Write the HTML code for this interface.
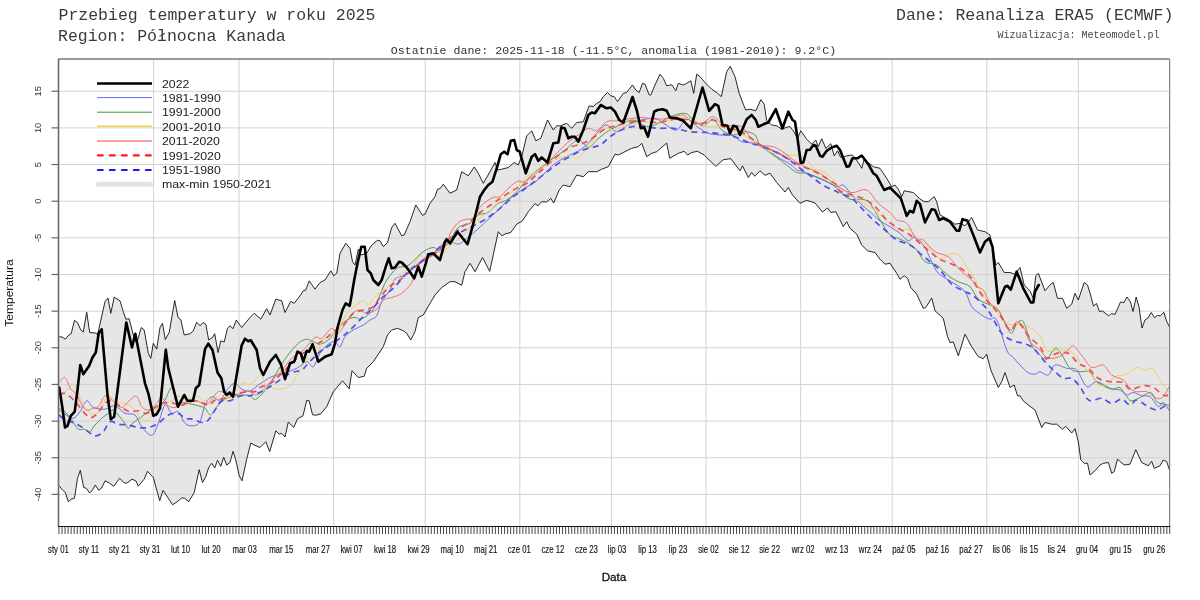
<!DOCTYPE html><html><head><meta charset="utf-8"><style>html,body{margin:0;padding:0;background:#fff;width:1200px;height:600px;overflow:hidden}svg{position:absolute;left:0;top:0;will-change:transform}.m{font-family:"Liberation Mono",monospace}.s{font-family:"Liberation Sans",sans-serif}</style></head><body><svg width="1200" height="600" viewBox="0 0 1200 600"><text class="m" x="58.5" y="19.5" font-size="16.5" fill="#3a3a3a">Przebieg temperatury w roku 2025</text><text class="m" x="58" y="40.5" font-size="16.5" fill="#3a3a3a">Region: Północna Kanada</text><text class="m" x="1173.3" y="19.5" font-size="16.5" fill="#3a3a3a" text-anchor="end">Dane: Reanaliza ERA5 (ECMWF)</text><text class="m" x="1159.5" y="37.5" font-size="10" fill="#444" text-anchor="end">Wizualizacja: Meteomodel.pl</text><text class="m" x="613.5" y="53.5" font-size="11.6" fill="#333" text-anchor="middle">Ostatnie dane: 2025-11-18 (-11.5°C, anomalia (1981-2010): 9.2°C)</text><path d="M59.2 336.7 L62.0 337.0 L65.3 339.2 L68.3 335.5 L71.2 333.7 L74.5 320.3 L77.5 322.5 L80.8 330.0 L83.3 332.0 L86.7 312.2 L89.7 332.5 L95.8 333.0 L97.5 335.0 L105.0 301.7 L108.0 298.0 L110.8 313.3 L114.2 297.2 L120.0 300.8 L123.3 311.7 L125.8 319.2 L129.2 318.8 L133.3 335.0 L136.7 343.3 L141.3 327.5 L144.2 330.0 L148.3 353.3 L150.8 358.3 L153.3 343.3 L156.7 349.2 L160.0 327.5 L162.5 323.3 L165.3 339.7 L169.2 332.5 L174.7 300.5 L178.0 317.5 L180.8 319.7 L184.2 335.0 L190.0 333.7 L193.3 330.8 L196.7 322.2 L200.0 325.8 L203.0 322.5 L205.8 324.2 L208.7 340.0 L212.5 337.5 L214.7 333.7 L218.0 352.5 L220.8 340.8 L224.2 342.0 L227.5 328.3 L230.0 325.8 L233.0 328.7 L236.3 320.0 L241.7 327.5 L250.0 317.5 L254.2 313.3 L260.8 319.2 L266.7 308.7 L270.0 315.0 L275.8 299.2 L281.7 300.8 L285.0 312.5 L290.8 301.3 L294.2 303.3 L300.0 295.8 L303.3 290.8 L305.8 290.0 L309.2 280.8 L315.0 289.2 L320.0 282.5 L325.0 280.0 L330.8 270.8 L333.7 275.8 L336.7 273.3 L340.0 253.3 L345.8 243.3 L350.0 248.3 L352.5 261.7 L355.0 265.0 L358.3 249.2 L360.8 255.0 L366.7 253.3 L371.7 245.0 L377.5 240.3 L380.0 240.8 L383.3 246.7 L387.5 242.5 L391.7 227.5 L395.0 223.3 L401.7 235.8 L404.2 235.0 L410.0 221.7 L415.8 205.0 L422.5 215.3 L425.0 214.2 L430.0 203.3 L435.0 196.7 L437.5 189.2 L440.0 188.7 L443.3 184.2 L450.0 193.3 L456.7 190.0 L461.7 171.7 L468.3 175.8 L474.2 167.0 L478.3 173.3 L483.3 183.3 L490.0 171.7 L495.0 162.5 L497.5 170.0 L501.7 169.2 L508.3 167.5 L514.2 162.5 L518.3 165.0 L521.7 156.7 L526.7 135.8 L531.7 130.8 L535.8 140.8 L540.8 138.3 L547.5 120.0 L553.3 130.0 L556.7 125.8 L560.8 125.8 L566.7 123.3 L571.7 128.3 L576.7 122.5 L583.3 121.7 L589.2 105.8 L593.3 106.7 L596.7 103.3 L600.0 101.7 L603.3 96.7 L607.5 92.5 L610.8 95.8 L614.2 96.7 L617.5 101.7 L623.3 93.3 L626.7 92.5 L632.5 85.0 L635.8 90.0 L639.2 92.5 L642.5 83.3 L645.0 84.2 L649.2 95.0 L650.8 95.0 L655.0 85.0 L660.0 74.2 L663.3 78.3 L666.7 85.8 L671.7 84.7 L675.8 90.8 L678.3 83.3 L683.3 85.0 L686.7 83.3 L690.8 80.8 L693.7 93.3 L696.7 74.2 L700.0 76.7 L705.0 82.5 L711.7 89.2 L716.7 92.5 L721.3 96.7 L726.7 71.7 L730.3 66.3 L735.0 76.7 L739.2 93.3 L743.3 104.2 L745.8 110.0 L750.0 109.2 L755.8 110.8 L760.8 99.7 L764.2 104.2 L766.7 120.8 L771.7 125.0 L776.7 125.8 L781.7 129.2 L788.3 126.7 L790.0 126.7 L793.3 130.8 L797.5 138.3 L800.8 130.8 L806.7 139.2 L811.7 144.2 L815.8 140.0 L818.3 146.7 L821.7 138.7 L825.8 148.3 L830.8 143.7 L834.2 155.8 L837.5 150.8 L840.8 157.5 L846.7 155.8 L852.5 155.0 L858.3 162.5 L861.7 168.3 L864.2 159.2 L868.3 162.5 L873.3 166.7 L880.0 168.3 L886.7 178.3 L891.7 186.7 L895.0 185.0 L898.3 189.2 L901.7 196.7 L904.2 190.8 L913.3 192.5 L919.2 198.3 L924.2 201.7 L928.3 201.7 L934.2 196.7 L936.7 201.7 L940.0 215.0 L943.3 216.7 L948.3 219.2 L955.0 224.2 L960.0 223.3 L965.0 225.8 L971.7 217.5 L977.5 230.0 L985.0 231.7 L990.0 235.0 L993.3 250.0 L995.8 265.0 L998.3 262.5 L1004.2 272.5 L1010.0 272.5 L1015.0 274.2 L1020.0 267.5 L1024.2 285.0 L1030.0 290.8 L1033.3 298.3 L1035.8 275.8 L1038.3 273.3 L1045.0 290.8 L1050.8 284.2 L1053.3 282.5 L1057.5 298.3 L1062.5 298.3 L1066.7 308.3 L1071.7 304.2 L1075.0 293.3 L1078.3 300.0 L1084.2 282.5 L1087.5 285.0 L1090.0 293.0 L1093.5 306.0 L1096.5 303.5 L1099.5 311.5 L1102.5 311.0 L1108.5 315.8 L1111.5 313.5 L1115.0 314.5 L1120.5 302.0 L1124.0 302.5 L1127.0 297.0 L1130.5 302.0 L1133.0 311.5 L1136.2 297.0 L1139.0 307.0 L1142.0 328.0 L1145.0 320.0 L1148.0 318.0 L1151.2 312.5 L1154.5 317.5 L1157.5 315.5 L1160.5 315.8 L1163.8 312.2 L1166.5 321.0 L1169.5 327.0 L1169.5 470.0 L1166.7 461.7 L1163.3 460.0 L1160.0 465.8 L1154.2 468.3 L1151.7 461.3 L1148.3 465.8 L1141.7 462.5 L1135.8 449.7 L1130.0 464.2 L1124.2 465.0 L1117.5 459.2 L1114.2 471.7 L1111.7 473.3 L1108.3 462.5 L1103.3 463.3 L1100.0 465.0 L1095.0 470.8 L1090.0 475.0 L1087.5 463.3 L1084.2 463.3 L1080.8 460.0 L1078.3 441.7 L1075.0 428.7 L1071.7 433.0 L1065.8 426.3 L1062.5 429.2 L1056.7 424.2 L1051.7 424.2 L1045.0 422.5 L1041.7 427.5 L1035.0 410.0 L1028.3 405.0 L1023.3 400.8 L1020.0 395.8 L1017.5 395.8 L1014.2 385.0 L1010.0 387.5 L1005.0 372.5 L1001.7 381.7 L998.3 387.5 L990.8 370.0 L986.7 354.2 L983.3 358.7 L978.3 356.7 L971.7 346.7 L965.0 334.2 L958.3 355.8 L953.3 342.0 L950.0 342.5 L947.5 336.7 L943.3 318.3 L935.0 310.8 L931.7 298.0 L925.8 307.5 L923.3 308.3 L916.7 294.2 L910.8 287.5 L907.5 278.3 L904.2 275.8 L900.0 279.2 L896.7 273.3 L890.0 263.3 L885.0 264.2 L880.0 259.2 L875.0 252.5 L867.5 250.8 L861.7 245.0 L856.7 234.2 L850.0 228.3 L846.7 221.7 L843.3 226.7 L840.0 220.0 L835.8 211.7 L830.8 212.5 L827.5 208.0 L822.5 212.0 L815.0 203.0 L806.7 200.3 L800.0 203.3 L792.5 195.0 L788.3 187.5 L785.0 192.0 L776.7 182.5 L770.0 173.3 L765.0 175.3 L760.0 170.8 L754.7 176.3 L751.7 172.5 L748.3 177.5 L742.5 165.8 L740.0 170.8 L730.8 158.7 L723.3 159.7 L715.8 166.3 L710.0 160.8 L704.2 155.0 L697.5 151.3 L691.7 152.5 L687.5 155.0 L684.2 151.3 L678.3 153.3 L669.7 158.3 L666.7 143.0 L656.7 151.7 L651.7 153.3 L646.7 156.7 L641.7 143.3 L638.3 146.7 L631.7 148.3 L623.3 152.5 L618.3 155.0 L615.0 154.2 L608.3 166.7 L601.7 169.2 L596.7 171.7 L588.3 171.7 L583.3 176.7 L576.7 175.0 L570.0 186.7 L563.3 185.0 L559.2 190.0 L553.7 203.0 L550.8 198.3 L546.7 202.0 L541.7 201.7 L538.0 205.8 L535.0 203.7 L528.3 211.7 L522.5 220.8 L516.7 224.2 L510.8 232.5 L505.8 233.7 L501.7 235.8 L498.3 231.7 L489.7 271.3 L482.5 257.5 L475.0 271.7 L470.0 263.3 L465.0 271.7 L461.7 285.3 L455.0 281.7 L450.0 281.7 L441.7 287.5 L435.0 295.0 L430.0 303.3 L423.3 315.0 L418.3 317.5 L415.0 331.7 L410.8 340.0 L406.7 333.3 L403.3 330.8 L397.5 328.3 L391.7 330.0 L387.5 335.0 L383.3 346.7 L373.3 361.7 L366.7 368.3 L364.2 376.3 L358.3 377.5 L352.0 370.8 L349.2 388.7 L342.5 380.8 L333.3 391.7 L326.7 406.7 L320.8 413.7 L315.8 415.3 L312.5 414.7 L309.2 400.8 L306.7 400.3 L303.0 415.8 L297.5 418.8 L293.7 427.5 L288.3 422.0 L285.0 437.0 L281.7 433.3 L279.2 434.2 L275.8 430.8 L269.7 451.7 L265.8 441.7 L260.0 447.5 L254.2 445.0 L250.8 443.0 L246.7 459.2 L242.0 480.8 L239.2 475.8 L235.8 460.0 L233.0 451.3 L230.0 462.5 L226.7 465.0 L223.7 457.2 L220.8 466.3 L217.5 460.3 L214.7 468.0 L211.7 463.3 L208.7 467.5 L205.8 476.7 L202.5 482.5 L199.2 469.7 L194.2 492.5 L188.7 501.7 L184.7 498.3 L181.7 498.0 L175.0 503.3 L172.5 504.7 L163.0 490.3 L159.7 500.8 L153.3 477.5 L147.5 471.3 L144.2 479.2 L138.3 486.2 L135.8 480.8 L132.0 479.2 L126.7 483.3 L123.7 482.5 L119.7 478.3 L113.7 486.3 L109.2 483.0 L105.0 480.8 L101.7 488.0 L98.7 490.3 L95.3 485.0 L92.5 490.0 L89.7 493.0 L86.3 488.3 L83.7 487.5 L80.3 470.3 L77.5 478.3 L74.5 498.3 L71.2 499.2 L68.3 501.7 L65.3 492.5 L62.5 490.0 L59.2 485.8Z" fill="#e6e6e6" stroke="none"/><line x1="153.56" y1="59" x2="153.56" y2="526" stroke="#d2d2d2" stroke-width="1"/><line x1="239.02" y1="59" x2="239.02" y2="526" stroke="#d2d2d2" stroke-width="1"/><line x1="333.64" y1="59" x2="333.64" y2="526" stroke="#d2d2d2" stroke-width="1"/><line x1="425.20" y1="59" x2="425.20" y2="526" stroke="#d2d2d2" stroke-width="1"/><line x1="519.82" y1="59" x2="519.82" y2="526" stroke="#d2d2d2" stroke-width="1"/><line x1="611.39" y1="59" x2="611.39" y2="526" stroke="#d2d2d2" stroke-width="1"/><line x1="706.01" y1="59" x2="706.01" y2="526" stroke="#d2d2d2" stroke-width="1"/><line x1="800.62" y1="59" x2="800.62" y2="526" stroke="#d2d2d2" stroke-width="1"/><line x1="892.19" y1="59" x2="892.19" y2="526" stroke="#d2d2d2" stroke-width="1"/><line x1="986.81" y1="59" x2="986.81" y2="526" stroke="#d2d2d2" stroke-width="1"/><line x1="1078.37" y1="59" x2="1078.37" y2="526" stroke="#d2d2d2" stroke-width="1"/><line x1="59" y1="91.25" x2="1169.7" y2="91.25" stroke="#d2d2d2" stroke-width="1"/><line x1="59" y1="127.90" x2="1169.7" y2="127.90" stroke="#d2d2d2" stroke-width="1"/><line x1="59" y1="164.55" x2="1169.7" y2="164.55" stroke="#d2d2d2" stroke-width="1"/><line x1="59" y1="201.20" x2="1169.7" y2="201.20" stroke="#d2d2d2" stroke-width="1"/><line x1="59" y1="237.85" x2="1169.7" y2="237.85" stroke="#d2d2d2" stroke-width="1"/><line x1="59" y1="274.50" x2="1169.7" y2="274.50" stroke="#d2d2d2" stroke-width="1"/><line x1="59" y1="311.15" x2="1169.7" y2="311.15" stroke="#d2d2d2" stroke-width="1"/><line x1="59" y1="347.80" x2="1169.7" y2="347.80" stroke="#d2d2d2" stroke-width="1"/><line x1="59" y1="384.45" x2="1169.7" y2="384.45" stroke="#d2d2d2" stroke-width="1"/><line x1="59" y1="421.10" x2="1169.7" y2="421.10" stroke="#d2d2d2" stroke-width="1"/><line x1="59" y1="457.75" x2="1169.7" y2="457.75" stroke="#d2d2d2" stroke-width="1"/><line x1="59" y1="494.40" x2="1169.7" y2="494.40" stroke="#d2d2d2" stroke-width="1"/><path d="M59.2 336.7 L62.0 337.0 L65.3 339.2 L68.3 335.5 L71.2 333.7 L74.5 320.3 L77.5 322.5 L80.8 330.0 L83.3 332.0 L86.7 312.2 L89.7 332.5 L95.8 333.0 L97.5 335.0 L105.0 301.7 L108.0 298.0 L110.8 313.3 L114.2 297.2 L120.0 300.8 L123.3 311.7 L125.8 319.2 L129.2 318.8 L133.3 335.0 L136.7 343.3 L141.3 327.5 L144.2 330.0 L148.3 353.3 L150.8 358.3 L153.3 343.3 L156.7 349.2 L160.0 327.5 L162.5 323.3 L165.3 339.7 L169.2 332.5 L174.7 300.5 L178.0 317.5 L180.8 319.7 L184.2 335.0 L190.0 333.7 L193.3 330.8 L196.7 322.2 L200.0 325.8 L203.0 322.5 L205.8 324.2 L208.7 340.0 L212.5 337.5 L214.7 333.7 L218.0 352.5 L220.8 340.8 L224.2 342.0 L227.5 328.3 L230.0 325.8 L233.0 328.7 L236.3 320.0 L241.7 327.5 L250.0 317.5 L254.2 313.3 L260.8 319.2 L266.7 308.7 L270.0 315.0 L275.8 299.2 L281.7 300.8 L285.0 312.5 L290.8 301.3 L294.2 303.3 L300.0 295.8 L303.3 290.8 L305.8 290.0 L309.2 280.8 L315.0 289.2 L320.0 282.5 L325.0 280.0 L330.8 270.8 L333.7 275.8 L336.7 273.3 L340.0 253.3 L345.8 243.3 L350.0 248.3 L352.5 261.7 L355.0 265.0 L358.3 249.2 L360.8 255.0 L366.7 253.3 L371.7 245.0 L377.5 240.3 L380.0 240.8 L383.3 246.7 L387.5 242.5 L391.7 227.5 L395.0 223.3 L401.7 235.8 L404.2 235.0 L410.0 221.7 L415.8 205.0 L422.5 215.3 L425.0 214.2 L430.0 203.3 L435.0 196.7 L437.5 189.2 L440.0 188.7 L443.3 184.2 L450.0 193.3 L456.7 190.0 L461.7 171.7 L468.3 175.8 L474.2 167.0 L478.3 173.3 L483.3 183.3 L490.0 171.7 L495.0 162.5 L497.5 170.0 L501.7 169.2 L508.3 167.5 L514.2 162.5 L518.3 165.0 L521.7 156.7 L526.7 135.8 L531.7 130.8 L535.8 140.8 L540.8 138.3 L547.5 120.0 L553.3 130.0 L556.7 125.8 L560.8 125.8 L566.7 123.3 L571.7 128.3 L576.7 122.5 L583.3 121.7 L589.2 105.8 L593.3 106.7 L596.7 103.3 L600.0 101.7 L603.3 96.7 L607.5 92.5 L610.8 95.8 L614.2 96.7 L617.5 101.7 L623.3 93.3 L626.7 92.5 L632.5 85.0 L635.8 90.0 L639.2 92.5 L642.5 83.3 L645.0 84.2 L649.2 95.0 L650.8 95.0 L655.0 85.0 L660.0 74.2 L663.3 78.3 L666.7 85.8 L671.7 84.7 L675.8 90.8 L678.3 83.3 L683.3 85.0 L686.7 83.3 L690.8 80.8 L693.7 93.3 L696.7 74.2 L700.0 76.7 L705.0 82.5 L711.7 89.2 L716.7 92.5 L721.3 96.7 L726.7 71.7 L730.3 66.3 L735.0 76.7 L739.2 93.3 L743.3 104.2 L745.8 110.0 L750.0 109.2 L755.8 110.8 L760.8 99.7 L764.2 104.2 L766.7 120.8 L771.7 125.0 L776.7 125.8 L781.7 129.2 L788.3 126.7 L790.0 126.7 L793.3 130.8 L797.5 138.3 L800.8 130.8 L806.7 139.2 L811.7 144.2 L815.8 140.0 L818.3 146.7 L821.7 138.7 L825.8 148.3 L830.8 143.7 L834.2 155.8 L837.5 150.8 L840.8 157.5 L846.7 155.8 L852.5 155.0 L858.3 162.5 L861.7 168.3 L864.2 159.2 L868.3 162.5 L873.3 166.7 L880.0 168.3 L886.7 178.3 L891.7 186.7 L895.0 185.0 L898.3 189.2 L901.7 196.7 L904.2 190.8 L913.3 192.5 L919.2 198.3 L924.2 201.7 L928.3 201.7 L934.2 196.7 L936.7 201.7 L940.0 215.0 L943.3 216.7 L948.3 219.2 L955.0 224.2 L960.0 223.3 L965.0 225.8 L971.7 217.5 L977.5 230.0 L985.0 231.7 L990.0 235.0 L993.3 250.0 L995.8 265.0 L998.3 262.5 L1004.2 272.5 L1010.0 272.5 L1015.0 274.2 L1020.0 267.5 L1024.2 285.0 L1030.0 290.8 L1033.3 298.3 L1035.8 275.8 L1038.3 273.3 L1045.0 290.8 L1050.8 284.2 L1053.3 282.5 L1057.5 298.3 L1062.5 298.3 L1066.7 308.3 L1071.7 304.2 L1075.0 293.3 L1078.3 300.0 L1084.2 282.5 L1087.5 285.0 L1090.0 293.0 L1093.5 306.0 L1096.5 303.5 L1099.5 311.5 L1102.5 311.0 L1108.5 315.8 L1111.5 313.5 L1115.0 314.5 L1120.5 302.0 L1124.0 302.5 L1127.0 297.0 L1130.5 302.0 L1133.0 311.5 L1136.2 297.0 L1139.0 307.0 L1142.0 328.0 L1145.0 320.0 L1148.0 318.0 L1151.2 312.5 L1154.5 317.5 L1157.5 315.5 L1160.5 315.8 L1163.8 312.2 L1166.5 321.0 L1169.5 327.0" fill="none" stroke="#111" stroke-width="0.9" stroke-linejoin="round"/><path d="M59.2 485.8 L62.5 490.0 L65.3 492.5 L68.3 501.7 L71.2 499.2 L74.5 498.3 L77.5 478.3 L80.3 470.3 L83.7 487.5 L86.3 488.3 L89.7 493.0 L92.5 490.0 L95.3 485.0 L98.7 490.3 L101.7 488.0 L105.0 480.8 L109.2 483.0 L113.7 486.3 L119.7 478.3 L123.7 482.5 L126.7 483.3 L132.0 479.2 L135.8 480.8 L138.3 486.2 L144.2 479.2 L147.5 471.3 L153.3 477.5 L159.7 500.8 L163.0 490.3 L172.5 504.7 L175.0 503.3 L181.7 498.0 L184.7 498.3 L188.7 501.7 L194.2 492.5 L199.2 469.7 L202.5 482.5 L205.8 476.7 L208.7 467.5 L211.7 463.3 L214.7 468.0 L217.5 460.3 L220.8 466.3 L223.7 457.2 L226.7 465.0 L230.0 462.5 L233.0 451.3 L235.8 460.0 L239.2 475.8 L242.0 480.8 L246.7 459.2 L250.8 443.0 L254.2 445.0 L260.0 447.5 L265.8 441.7 L269.7 451.7 L275.8 430.8 L279.2 434.2 L281.7 433.3 L285.0 437.0 L288.3 422.0 L293.7 427.5 L297.5 418.8 L303.0 415.8 L306.7 400.3 L309.2 400.8 L312.5 414.7 L315.8 415.3 L320.8 413.7 L326.7 406.7 L333.3 391.7 L342.5 380.8 L349.2 388.7 L352.0 370.8 L358.3 377.5 L364.2 376.3 L366.7 368.3 L373.3 361.7 L383.3 346.7 L387.5 335.0 L391.7 330.0 L397.5 328.3 L403.3 330.8 L406.7 333.3 L410.8 340.0 L415.0 331.7 L418.3 317.5 L423.3 315.0 L430.0 303.3 L435.0 295.0 L441.7 287.5 L450.0 281.7 L455.0 281.7 L461.7 285.3 L465.0 271.7 L470.0 263.3 L475.0 271.7 L482.5 257.5 L489.7 271.3 L498.3 231.7 L501.7 235.8 L505.8 233.7 L510.8 232.5 L516.7 224.2 L522.5 220.8 L528.3 211.7 L535.0 203.7 L538.0 205.8 L541.7 201.7 L546.7 202.0 L550.8 198.3 L553.7 203.0 L559.2 190.0 L563.3 185.0 L570.0 186.7 L576.7 175.0 L583.3 176.7 L588.3 171.7 L596.7 171.7 L601.7 169.2 L608.3 166.7 L615.0 154.2 L618.3 155.0 L623.3 152.5 L631.7 148.3 L638.3 146.7 L641.7 143.3 L646.7 156.7 L651.7 153.3 L656.7 151.7 L666.7 143.0 L669.7 158.3 L678.3 153.3 L684.2 151.3 L687.5 155.0 L691.7 152.5 L697.5 151.3 L704.2 155.0 L710.0 160.8 L715.8 166.3 L723.3 159.7 L730.8 158.7 L740.0 170.8 L742.5 165.8 L748.3 177.5 L751.7 172.5 L754.7 176.3 L760.0 170.8 L765.0 175.3 L770.0 173.3 L776.7 182.5 L785.0 192.0 L788.3 187.5 L792.5 195.0 L800.0 203.3 L806.7 200.3 L815.0 203.0 L822.5 212.0 L827.5 208.0 L830.8 212.5 L835.8 211.7 L840.0 220.0 L843.3 226.7 L846.7 221.7 L850.0 228.3 L856.7 234.2 L861.7 245.0 L867.5 250.8 L875.0 252.5 L880.0 259.2 L885.0 264.2 L890.0 263.3 L896.7 273.3 L900.0 279.2 L904.2 275.8 L907.5 278.3 L910.8 287.5 L916.7 294.2 L923.3 308.3 L925.8 307.5 L931.7 298.0 L935.0 310.8 L943.3 318.3 L947.5 336.7 L950.0 342.5 L953.3 342.0 L958.3 355.8 L965.0 334.2 L971.7 346.7 L978.3 356.7 L983.3 358.7 L986.7 354.2 L990.8 370.0 L998.3 387.5 L1001.7 381.7 L1005.0 372.5 L1010.0 387.5 L1014.2 385.0 L1017.5 395.8 L1020.0 395.8 L1023.3 400.8 L1028.3 405.0 L1035.0 410.0 L1041.7 427.5 L1045.0 422.5 L1051.7 424.2 L1056.7 424.2 L1062.5 429.2 L1065.8 426.3 L1071.7 433.0 L1075.0 428.7 L1078.3 441.7 L1080.8 460.0 L1084.2 463.3 L1087.5 463.3 L1090.0 475.0 L1095.0 470.8 L1100.0 465.0 L1103.3 463.3 L1108.3 462.5 L1111.7 473.3 L1114.2 471.7 L1117.5 459.2 L1124.2 465.0 L1130.0 464.2 L1135.8 449.7 L1141.7 462.5 L1148.3 465.8 L1151.7 461.3 L1154.2 468.3 L1160.0 465.8 L1163.3 460.0 L1166.7 461.7 L1169.5 470.0" fill="none" stroke="#111" stroke-width="0.9" stroke-linejoin="round"/><path d="M59.2 410.0C60.2 410.7 62.6 412.8 65.0 414.2C67.3 415.6 70.8 418.7 73.3 418.3C75.8 417.9 77.8 414.6 80.0 411.7C82.2 408.8 84.5 401.5 86.7 400.8C88.9 400.1 90.2 406.1 93.3 407.5C96.3 408.9 101.4 409.5 105.0 409.2C108.6 408.9 111.7 405.1 115.0 405.8C118.3 406.5 121.7 411.8 125.0 413.3C128.3 414.8 132.2 412.8 135.0 415.0C137.8 417.2 138.9 423.3 141.7 426.7C144.5 430.1 148.9 435.9 151.7 435.3C154.5 434.7 156.1 428.4 158.3 423.3C160.5 418.2 162.8 406.7 165.0 405.0C167.2 403.3 169.5 412.2 171.7 413.3C173.9 414.4 176.1 410.0 178.3 411.7C180.5 413.4 182.5 420.9 185.0 423.3C187.5 425.7 190.8 426.1 193.3 425.8C195.8 425.5 198.1 425.2 200.0 421.7C201.9 418.2 203.1 409.2 205.0 405.0C206.9 400.8 209.2 397.5 211.7 396.7C214.2 395.9 217.2 401.4 220.0 400.0C222.8 398.6 225.8 391.1 228.3 388.3C230.8 385.5 232.8 383.2 235.0 383.3C237.2 383.4 239.2 387.9 241.7 389.2C244.2 390.5 247.2 391.7 250.0 391.0C252.8 390.3 254.7 387.4 258.3 385.0C261.9 382.6 267.5 378.6 271.7 376.7C275.9 374.8 279.1 374.7 283.3 373.3C287.5 371.9 292.8 370.2 296.7 368.3C300.6 366.4 303.9 362.0 306.7 361.7C309.5 361.4 311.1 368.1 313.3 366.7C315.5 365.3 317.5 357.1 320.0 353.3C322.5 349.6 325.8 346.1 328.3 344.2C330.8 342.3 333.1 341.3 335.0 341.7C336.9 342.1 338.3 347.5 340.0 346.7C341.7 345.9 342.8 339.5 345.0 336.7C347.2 333.9 350.2 331.9 353.3 330.0C356.4 328.1 360.5 326.7 363.3 325.0C366.1 323.3 367.8 321.5 370.0 320.0C372.2 318.5 374.8 318.9 376.7 315.8C378.6 312.8 379.5 306.0 381.7 301.7C383.9 297.4 387.8 293.8 390.0 290.0C392.2 286.2 392.5 281.5 395.0 279.0C397.5 276.5 401.4 277.2 405.0 275.0C408.6 272.8 412.5 268.9 416.7 265.8C420.9 262.8 425.8 260.2 430.0 256.7C434.2 253.2 438.4 247.6 441.7 245.0C445.0 242.4 447.2 241.1 450.0 241.0C452.8 240.9 455.5 244.6 458.3 244.2C461.1 243.8 463.9 240.4 466.7 238.3C469.5 236.2 471.7 234.6 475.0 231.7C478.3 228.8 482.8 224.4 486.7 220.8C490.6 217.2 494.7 213.5 498.3 210.0C501.9 206.5 504.4 203.3 508.3 200.0C512.2 196.7 517.0 193.2 521.7 190.0C526.4 186.8 531.4 185.0 536.7 180.8C542.0 176.6 548.3 169.0 553.3 165.0C558.3 161.0 562.2 159.2 566.7 156.7C571.2 154.2 576.4 152.2 580.0 150.0C583.6 147.8 585.5 146.1 588.3 143.3C591.1 140.5 593.8 136.4 596.7 133.3C599.7 130.2 602.7 125.3 606.0 125.0C609.3 124.7 613.2 131.6 616.7 131.7C620.2 131.8 623.1 127.6 626.7 125.8C630.3 124.0 633.6 122.0 638.3 120.8C643.0 119.5 650.5 117.7 655.0 118.3C659.5 118.9 661.4 122.2 665.0 124.2C668.6 126.2 673.1 130.8 676.7 130.0C680.3 129.2 683.1 119.6 686.7 119.2C690.3 118.8 694.7 125.2 698.3 127.5C701.9 129.8 704.7 132.1 708.3 133.3C711.9 134.6 715.8 134.6 720.0 135.0C724.2 135.4 729.7 134.7 733.3 135.8C736.9 136.9 737.8 140.3 741.7 141.7C745.6 143.1 750.9 141.7 756.7 144.2C762.5 146.7 771.2 153.4 776.7 156.7C782.2 160.0 786.7 161.8 790.0 164.0C793.3 166.2 794.5 168.7 796.7 170.0C798.9 171.3 800.2 170.6 803.3 171.7C806.3 172.8 811.1 175.0 815.0 176.7C818.9 178.4 823.1 180.0 826.7 181.7C830.3 183.4 833.9 186.1 836.7 186.7C839.5 187.2 841.1 184.0 843.3 185.0C845.5 186.0 847.2 189.4 850.0 192.5C852.8 195.6 856.4 199.8 860.0 203.3C863.6 206.8 868.4 210.4 871.7 213.3C875.0 216.2 877.0 218.6 880.0 220.8C883.0 223.0 886.7 224.6 890.0 226.7C893.3 228.8 897.0 231.0 900.0 233.3C903.0 235.7 905.8 240.1 908.3 240.8C910.8 241.5 912.2 236.4 915.0 237.5C917.8 238.6 922.5 244.0 925.0 247.5C927.5 251.0 927.8 254.0 930.0 258.3C932.2 262.6 935.0 269.6 938.3 273.3C941.6 277.1 945.5 277.7 950.0 280.8C954.5 283.9 961.4 287.4 965.0 291.7C968.6 296.0 968.9 302.8 971.7 306.7C974.5 310.6 978.7 312.9 981.7 315.0C984.8 317.1 987.5 318.4 990.0 319.2C992.5 320.0 993.9 314.9 996.7 320.0C999.5 325.1 1003.9 343.8 1006.7 350.0C1009.5 356.2 1010.0 353.9 1013.3 357.5C1016.6 361.1 1023.1 368.9 1026.7 371.7C1030.3 374.5 1032.8 374.2 1035.0 374.2C1037.2 374.2 1037.8 371.6 1040.0 371.7C1042.2 371.8 1045.8 376.1 1048.3 375.0C1050.8 373.9 1051.9 366.1 1055.0 365.0C1058.1 363.9 1063.1 367.5 1066.7 368.3C1070.3 369.1 1073.4 366.9 1076.7 370.0C1080.0 373.1 1083.4 384.8 1086.7 386.7C1090.0 388.6 1092.8 381.4 1096.7 381.7C1100.6 382.0 1106.1 386.9 1110.0 388.3C1113.9 389.7 1117.2 388.9 1120.0 390.0C1122.8 391.1 1124.5 394.6 1126.7 395.0C1128.9 395.4 1130.8 392.4 1133.3 392.5C1135.8 392.6 1138.9 395.1 1141.7 395.8C1144.5 396.5 1147.2 394.9 1150.0 396.7C1152.8 398.5 1156.1 405.7 1158.3 406.7C1160.5 407.7 1161.4 401.8 1163.3 402.5C1165.2 403.2 1168.5 409.6 1169.5 411.0" fill="none" stroke="#6a6af0" stroke-width="1.0"  stroke-linejoin="round"/><path d="M59.2 408.3C60.2 408.9 62.9 409.8 65.0 411.7C67.1 413.6 69.5 417.1 71.7 420.0C73.9 422.9 76.1 427.7 78.3 429.2C80.5 430.7 83.2 428.6 85.0 429.2C86.8 429.8 87.5 433.2 89.2 432.5C90.9 431.8 92.9 427.4 95.0 425.0C97.1 422.6 99.5 420.2 101.7 418.3C103.9 416.4 106.4 414.7 108.3 413.3C110.2 411.9 111.6 409.7 113.3 410.0C115.0 410.3 116.3 412.8 118.3 415.0C120.2 417.2 123.3 421.1 125.0 423.3C126.7 425.5 126.9 428.4 128.3 428.3C129.7 428.2 131.6 424.0 133.3 422.5C135.0 421.0 136.4 420.6 138.3 419.2C140.2 417.8 142.8 415.9 145.0 414.2C147.2 412.5 149.5 410.6 151.7 409.2C153.9 407.8 156.1 407.3 158.3 405.8C160.5 404.3 162.8 403.1 165.0 400.0C167.2 396.9 169.8 387.2 171.7 387.5C173.6 387.8 174.8 399.2 176.7 401.7C178.6 404.2 180.8 402.1 183.3 402.5C185.8 402.9 189.2 403.6 191.7 404.2C194.2 404.8 196.1 405.1 198.3 405.8C200.5 406.5 202.9 406.8 205.0 408.3C207.1 409.8 208.6 415.6 210.8 415.0C213.0 414.4 215.7 407.8 218.3 405.0C221.0 402.2 223.9 399.8 226.7 398.3C229.5 396.8 232.2 396.4 235.0 395.8C237.8 395.2 240.8 395.0 243.3 395.0C245.8 395.0 247.9 395.3 250.0 396.0C252.1 396.7 253.0 400.5 255.8 399.2C258.6 397.9 262.9 393.2 266.7 388.3C270.4 383.4 275.0 375.3 278.3 370.0C281.6 364.7 283.4 361.1 286.7 356.7C290.0 352.2 295.0 346.2 298.3 343.3C301.6 340.4 304.2 339.5 306.7 339.2C309.2 338.9 311.1 340.9 313.3 341.7C315.5 342.5 317.5 344.5 320.0 344.2C322.5 343.9 325.2 342.6 328.3 340.0C331.4 337.4 335.2 331.6 338.3 328.3C341.4 325.0 343.9 321.8 346.7 320.0C349.5 318.2 352.8 317.6 355.0 317.5C357.2 317.4 358.1 319.5 360.0 319.2C361.9 318.9 364.5 317.5 366.7 315.8C368.9 314.1 371.1 312.7 373.3 309.2C375.5 305.7 377.8 299.9 380.0 295.0C382.2 290.1 383.9 284.4 386.7 280.0C389.5 275.6 393.9 270.5 396.7 268.3C399.5 266.1 401.1 267.4 403.3 266.7C405.5 266.0 406.7 266.7 410.0 264.2C413.3 261.7 419.4 254.5 423.3 251.7C427.2 248.9 430.5 247.8 433.3 247.5C436.1 247.2 437.2 251.2 440.0 250.0C442.8 248.8 446.9 243.8 450.0 240.0C453.1 236.2 455.0 230.3 458.3 227.5C461.6 224.7 466.7 225.4 470.0 223.3C473.3 221.2 475.2 216.8 478.3 215.0C481.4 213.2 485.2 214.3 488.3 212.5C491.4 210.7 493.6 206.3 496.7 204.2C499.8 202.1 503.4 202.1 506.7 200.0C510.0 197.9 513.1 195.3 516.7 191.7C520.3 188.1 524.1 182.5 528.3 178.3C532.5 174.1 537.5 170.0 541.7 166.7C545.9 163.4 549.4 161.1 553.3 158.3C557.2 155.5 560.8 153.1 565.0 150.0C569.2 146.9 574.4 140.4 578.3 140.0C582.2 139.6 585.2 147.5 588.3 147.5C591.4 147.5 593.4 142.8 596.7 140.0C600.0 137.2 604.4 133.5 608.3 131.0C612.2 128.5 615.8 126.8 620.0 125.0C624.2 123.2 628.8 119.7 633.3 120.0C637.8 120.3 642.5 126.2 646.7 126.7C650.9 127.2 654.4 125.0 658.3 123.3C662.2 121.6 665.5 118.4 670.0 116.7C674.5 115.0 681.1 112.8 685.0 113.3C688.9 113.8 690.2 117.9 693.3 120.0C696.3 122.1 700.0 125.9 703.3 125.8C706.6 125.7 710.2 118.5 713.3 119.2C716.4 119.9 718.4 127.4 721.7 130.0C725.0 132.6 729.4 134.7 733.3 135.0C737.2 135.3 741.4 131.7 745.0 131.7C748.6 131.7 752.5 132.8 755.0 135.0C757.5 137.2 757.0 141.7 760.0 145.0C763.0 148.3 768.8 151.7 773.3 155.0C777.8 158.3 782.8 162.1 786.7 165.0C790.6 167.9 793.4 171.1 796.7 172.5C800.0 173.9 802.8 172.3 806.7 173.3C810.6 174.3 815.6 176.4 820.0 178.3C824.4 180.2 830.0 182.7 833.3 185.0C836.6 187.3 837.2 189.6 840.0 192.0C842.8 194.4 846.4 198.0 850.0 199.2C853.6 200.4 858.4 198.5 861.7 199.2C865.0 199.9 867.0 199.8 870.0 203.3C873.0 206.8 876.7 214.7 880.0 220.0C883.3 225.3 887.0 231.9 890.0 235.0C893.0 238.1 895.2 236.9 898.3 238.3C901.3 239.7 905.2 241.4 908.3 243.3C911.4 245.2 913.9 246.9 916.7 250.0C919.5 253.1 921.7 259.2 925.0 261.7C928.3 264.2 932.8 262.6 936.7 265.0C940.6 267.4 944.7 273.0 948.3 275.8C951.9 278.6 954.7 279.9 958.3 281.7C961.9 283.5 966.7 283.8 970.0 286.7C973.3 289.6 975.0 296.1 978.3 299.2C981.6 302.2 986.7 303.2 990.0 305.0C993.3 306.8 995.5 306.4 998.3 310.0C1001.1 313.6 1004.5 322.8 1006.7 326.7C1008.9 330.6 1010.0 333.7 1011.7 333.3C1013.4 332.9 1014.8 326.1 1016.7 324.2C1018.6 322.3 1020.8 318.2 1023.3 321.7C1025.8 325.2 1029.2 339.7 1031.7 345.0C1034.2 350.3 1035.8 350.9 1038.3 353.3C1040.8 355.7 1043.6 360.0 1046.7 359.2C1049.8 358.4 1052.8 346.8 1056.7 348.3C1060.6 349.8 1066.1 364.4 1070.0 368.3C1073.9 372.2 1076.7 371.1 1080.0 371.7C1083.3 372.3 1087.2 370.0 1090.0 371.7C1092.8 373.4 1093.1 378.8 1096.7 381.7C1100.3 384.6 1107.8 388.2 1111.7 389.2C1115.6 390.2 1117.5 386.2 1120.0 387.5C1122.5 388.8 1124.8 394.5 1126.7 396.7C1128.7 398.9 1129.2 400.8 1131.7 400.8C1134.2 400.8 1138.5 398.1 1141.7 396.7C1144.9 395.3 1148.3 391.7 1150.8 392.5C1153.3 393.3 1154.6 399.8 1156.7 401.7C1158.8 403.6 1161.2 403.6 1163.3 404.2C1165.4 404.8 1168.5 404.9 1169.5 405.0" fill="none" stroke="#4f9a4f" stroke-width="1.0"  stroke-linejoin="round"/><path d="M59.2 393.3C60.2 393.1 62.8 393.4 65.0 392.0C67.2 390.6 70.7 385.7 72.5 384.7C74.3 383.7 74.8 383.9 76.0 386.0C77.2 388.1 78.5 393.9 80.0 397.5C81.5 401.1 82.8 404.6 85.0 407.5C87.2 410.4 90.8 414.6 93.3 415.0C95.8 415.4 97.5 413.1 100.0 410.0C102.5 406.9 105.2 397.9 108.3 396.7C111.3 395.4 115.5 401.4 118.3 402.5C121.1 403.6 122.2 402.1 125.0 403.3C127.8 404.6 132.2 407.4 135.0 410.0C137.8 412.6 139.5 417.5 141.7 419.2C143.9 420.9 146.1 421.5 148.3 420.0C150.5 418.5 152.5 412.6 155.0 410.0C157.5 407.4 160.5 405.7 163.3 404.2C166.1 402.7 168.9 402.2 171.7 400.8C174.5 399.4 177.2 395.9 180.0 395.8C182.8 395.7 185.5 400.0 188.3 400.0C191.1 400.0 193.9 395.7 196.7 395.8C199.5 395.9 201.9 400.7 205.0 400.8C208.1 400.9 211.7 396.8 215.0 396.7C218.3 396.6 222.2 400.6 225.0 400.0C227.8 399.4 229.5 395.5 231.7 393.3C233.9 391.1 236.1 388.5 238.3 386.7C240.5 384.9 243.2 382.8 245.0 382.5C246.8 382.2 247.1 385.6 249.0 385.0C250.9 384.4 254.6 381.1 256.7 379.2C258.8 377.2 260.2 372.3 261.7 373.3C263.2 374.3 262.9 382.4 265.8 385.0C268.7 387.6 275.2 389.1 279.2 389.2C283.2 389.3 286.8 388.4 290.0 385.8C293.2 383.2 295.5 377.6 298.3 373.3C301.1 369.0 303.6 362.8 306.7 360.0C309.8 357.2 314.2 359.8 316.7 356.7C319.2 353.6 319.5 345.3 321.7 341.7C323.9 338.1 327.5 336.7 330.0 335.0C332.5 333.3 334.2 334.8 336.7 331.7C339.2 328.6 342.5 320.6 345.0 316.7C347.5 312.8 348.6 310.9 351.7 308.3C354.8 305.7 360.5 301.4 363.3 300.8C366.1 300.2 366.1 306.0 368.3 305.0C370.5 304.0 373.6 297.8 376.7 295.0C379.8 292.2 383.6 290.8 386.7 288.3C389.8 285.8 391.9 282.8 395.0 280.0C398.1 277.2 401.9 274.2 405.0 271.7C408.1 269.2 410.8 267.6 413.3 265.0C415.8 262.4 418.1 257.1 420.0 255.8C421.9 254.6 422.8 257.5 425.0 257.5C427.2 257.5 430.8 256.1 433.3 255.8C435.8 255.5 437.2 257.4 440.0 255.8C442.8 254.2 446.4 249.2 450.0 246.0C453.6 242.8 458.1 240.1 461.7 236.7C465.3 233.3 468.4 229.1 471.7 225.8C475.0 222.5 478.1 219.6 481.7 216.7C485.3 213.8 489.7 211.4 493.3 208.3C496.9 205.2 500.0 201.2 503.3 198.3C506.6 195.4 509.4 194.4 513.3 190.8C517.2 187.2 522.8 179.9 526.7 176.7C530.6 173.5 533.4 173.9 536.7 171.7C540.0 169.5 542.8 165.5 546.7 163.3C550.6 161.1 556.1 159.6 560.0 158.3C563.9 157.1 567.1 155.8 570.0 155.8C572.9 155.8 574.5 159.8 577.5 158.3C580.5 156.8 585.1 150.6 588.3 146.7C591.5 142.8 593.9 138.1 596.7 135.0C599.5 131.9 602.0 129.1 605.0 128.3C608.0 127.5 612.0 130.3 615.0 130.0C618.0 129.7 620.2 127.7 623.3 126.7C626.3 125.7 630.2 125.0 633.3 124.2C636.4 123.4 638.1 122.0 641.7 121.7C645.3 121.4 650.3 122.8 655.0 122.5C659.7 122.2 665.3 120.8 670.0 120.0C674.7 119.2 678.8 117.2 683.3 117.5C687.8 117.8 692.8 120.2 696.7 121.7C700.6 123.2 702.8 125.9 706.7 126.7C710.6 127.5 715.6 126.2 720.0 126.7C724.4 127.2 728.8 128.3 733.3 130.0C737.8 131.7 742.2 133.9 746.7 136.7C751.2 139.5 755.6 144.0 760.0 146.7C764.4 149.4 768.8 151.6 773.3 153.0C777.8 154.4 782.8 154.6 786.7 155.0C790.6 155.4 793.4 154.7 796.7 155.5C800.0 156.3 803.7 157.7 806.7 160.0C809.8 162.3 812.2 167.2 815.0 169.2C817.8 171.1 820.5 170.2 823.3 171.7C826.1 173.2 828.9 175.8 831.7 178.3C834.5 180.8 837.0 183.7 840.0 186.5C843.0 189.3 846.7 192.5 850.0 195.0C853.3 197.5 856.7 199.8 860.0 201.7C863.3 203.6 866.7 204.5 870.0 206.7C873.3 208.9 876.7 212.2 880.0 215.0C883.3 217.8 886.7 220.8 890.0 223.3C893.3 225.8 897.0 229.0 900.0 230.0C903.0 231.0 905.5 227.9 908.3 229.2C911.1 230.4 913.6 234.9 916.7 237.5C919.8 240.1 922.8 241.5 926.7 245.0C930.6 248.5 936.1 256.8 940.0 258.3C943.9 259.8 947.0 254.8 950.0 254.2C953.0 253.6 955.5 252.9 958.3 255.0C961.1 257.1 964.2 263.1 966.7 266.7C969.2 270.3 970.5 271.8 973.3 276.5C976.1 281.2 980.0 289.7 983.3 295.0C986.6 300.3 989.4 303.6 993.3 308.3C997.2 313.0 1002.8 320.7 1006.7 323.3C1010.6 325.9 1013.1 323.6 1016.7 324.2C1020.3 324.8 1024.4 324.7 1028.3 326.7C1032.2 328.7 1036.9 332.1 1040.0 336.0C1043.1 339.9 1044.5 347.5 1046.7 350.0C1048.9 352.5 1050.0 350.8 1053.3 350.8C1056.6 350.8 1063.1 349.3 1066.7 350.0C1070.3 350.7 1072.5 352.5 1075.0 355.0C1077.5 357.5 1078.9 361.7 1081.7 365.0C1084.5 368.3 1088.9 371.8 1091.7 375.0C1094.5 378.2 1095.8 382.5 1098.3 384.2C1100.8 385.9 1103.9 386.2 1106.7 385.0C1109.5 383.8 1111.7 378.5 1115.0 376.7C1118.3 374.9 1123.1 375.7 1126.7 374.2C1130.3 372.7 1133.9 368.2 1136.7 367.5C1139.5 366.8 1140.5 369.7 1143.3 370.0C1146.1 370.3 1150.5 367.5 1153.3 369.2C1156.1 370.9 1157.3 376.0 1160.0 380.0C1162.7 384.0 1167.9 390.8 1169.5 393.0" fill="none" stroke="#eecf64" stroke-width="1.0"  stroke-linejoin="round"/><path d="M59.2 382.5C60.2 381.7 63.1 376.4 65.0 377.5C66.9 378.6 68.8 386.4 70.8 389.2C72.8 392.0 74.9 391.6 76.7 394.2C78.5 396.8 80.0 402.4 81.7 405.0C83.4 407.6 84.8 409.4 86.7 410.0C88.6 410.6 91.2 409.0 93.3 408.3C95.4 407.6 97.2 407.9 99.2 405.8C101.2 403.7 102.7 396.6 105.0 395.8C107.3 395.0 110.5 398.9 113.3 400.8C116.1 402.8 118.9 407.6 121.7 407.5C124.5 407.4 127.5 401.9 130.0 400.0C132.5 398.1 134.8 395.2 136.7 396.3C138.6 397.4 139.8 404.4 141.7 406.7C143.6 409.0 146.1 410.1 148.3 410.0C150.5 409.9 152.8 407.9 155.0 405.8C157.2 403.7 159.5 397.5 161.7 397.5C163.9 397.5 166.1 404.1 168.3 405.8C170.5 407.5 172.8 407.8 175.0 407.5C177.2 407.2 179.5 404.9 181.7 404.2C183.9 403.5 186.1 403.9 188.3 403.3C190.5 402.7 192.8 400.9 195.0 400.8C197.2 400.7 199.5 402.1 201.7 402.5C203.9 402.9 205.5 405.1 208.3 403.3C211.1 401.5 215.0 393.2 218.3 391.7C221.6 390.2 225.0 393.8 228.3 394.2C231.6 394.6 235.0 394.8 238.3 394.2C241.6 393.6 245.2 390.7 248.3 390.8C251.4 390.9 253.6 395.8 256.7 395.0C259.8 394.2 262.8 389.6 266.7 385.8C270.6 382.1 275.8 377.1 280.0 372.5C284.2 367.9 287.8 362.1 291.7 358.3C295.6 354.6 299.4 353.5 303.3 350.0C307.2 346.5 311.9 339.4 315.0 337.5C318.1 335.6 318.9 339.8 321.7 338.3C324.5 336.8 328.9 329.1 331.7 328.3C334.5 327.5 335.2 335.2 338.3 333.3C341.4 331.4 346.7 320.6 350.0 316.7C353.3 312.8 355.5 310.6 358.3 310.0C361.1 309.4 363.6 313.4 366.7 313.3C369.8 313.2 373.9 311.4 376.7 309.2C379.5 307.0 380.8 301.9 383.3 300.0C385.8 298.1 388.6 298.6 391.7 297.5C394.8 296.4 398.4 295.8 401.7 293.3C405.0 290.8 408.6 287.5 411.7 282.5C414.8 277.5 416.4 267.9 420.0 263.3C423.6 258.7 428.9 258.1 433.3 255.0C437.8 251.9 443.9 248.5 446.7 245.0C449.5 241.5 448.1 237.8 450.0 234.0C451.9 230.2 455.5 225.0 458.3 222.5C461.1 220.0 464.2 219.9 466.7 219.2C469.2 218.5 471.2 220.1 473.3 218.3C475.4 216.5 477.2 210.9 479.2 208.3C481.1 205.7 482.6 204.3 485.0 202.5C487.4 200.7 490.8 198.5 493.3 197.5C495.8 196.5 497.8 197.9 500.0 196.7C502.2 195.4 503.9 192.5 506.7 190.0C509.5 187.5 513.4 183.2 516.7 181.7C520.0 180.2 522.3 183.3 526.7 180.8C531.1 178.3 538.3 171.3 543.3 166.7C548.3 162.1 552.8 157.2 556.7 153.3C560.6 149.4 563.1 146.4 566.7 143.3C570.3 140.2 574.7 137.5 578.3 135.0C581.9 132.5 585.2 129.0 588.3 128.3C591.4 127.6 593.6 131.9 596.7 130.8C599.8 129.7 603.4 123.4 606.7 121.7C610.0 120.0 613.4 121.2 616.7 120.8C620.0 120.4 622.5 119.8 626.7 119.2C630.9 118.7 637.0 117.5 641.7 117.5C646.4 117.5 650.3 119.1 655.0 119.2C659.7 119.3 665.3 119.0 670.0 118.3C674.7 117.6 679.4 114.2 683.3 115.0C687.2 115.8 690.0 122.0 693.3 123.3C696.6 124.5 700.0 123.6 703.3 122.5C706.6 121.4 710.0 116.3 713.3 116.7C716.6 117.1 720.0 123.5 723.3 125.0C726.6 126.5 730.2 125.5 733.3 125.8C736.4 126.1 738.9 124.9 741.7 126.7C744.5 128.5 747.0 133.6 750.0 136.7C753.0 139.8 756.1 143.3 760.0 145.0C763.9 146.7 769.1 145.3 773.3 146.7C777.5 148.1 781.7 151.1 785.0 153.3C788.3 155.5 789.7 157.6 793.3 160.0C796.9 162.4 802.2 165.3 806.7 167.5C811.2 169.7 815.8 170.9 820.0 173.3C824.2 175.7 827.8 178.9 831.7 181.7C835.6 184.5 839.7 188.2 843.3 190.0C846.9 191.8 849.4 192.5 853.3 192.5C857.2 192.5 862.5 188.2 866.7 190.0C870.9 191.8 874.4 199.6 878.3 203.3C882.2 207.1 886.9 209.7 890.0 212.5C893.1 215.3 893.9 218.2 896.7 220.0C899.5 221.8 903.4 220.1 906.7 223.3C910.0 226.5 913.9 236.4 916.7 239.2C919.5 242.0 920.2 237.9 923.3 240.0C926.3 242.1 930.8 248.9 935.0 251.7C939.2 254.5 944.1 253.6 948.3 256.7C952.5 259.8 956.1 266.1 960.0 270.0C963.9 273.9 968.9 277.2 971.7 280.0C974.5 282.8 974.8 285.0 976.7 286.7C978.6 288.4 981.1 287.2 983.3 290.0C985.5 292.8 987.5 300.0 990.0 303.3C992.5 306.6 995.0 305.6 998.3 310.0C1001.6 314.4 1006.9 328.1 1010.0 330.0C1013.1 331.9 1014.5 322.2 1016.7 321.7C1018.9 321.1 1021.1 323.4 1023.3 326.7C1025.5 330.0 1027.2 337.8 1030.0 341.7C1032.8 345.6 1037.2 347.4 1040.0 350.0C1042.8 352.6 1043.9 356.2 1046.7 357.5C1049.5 358.8 1053.4 358.5 1056.7 357.5C1060.0 356.5 1063.9 353.6 1066.7 351.7C1069.5 349.8 1070.5 344.8 1073.3 345.8C1076.1 346.8 1080.2 353.9 1083.3 357.5C1086.4 361.1 1088.4 366.2 1091.7 367.5C1095.0 368.8 1100.0 363.8 1103.3 365.0C1106.6 366.2 1108.4 372.5 1111.7 375.0C1115.0 377.5 1120.2 377.8 1123.3 380.0C1126.3 382.2 1127.8 386.4 1130.0 388.3C1132.2 390.2 1133.9 391.1 1136.7 391.7C1139.5 392.3 1143.4 390.6 1146.7 391.7C1150.0 392.8 1153.9 397.5 1156.7 398.3C1159.5 399.1 1161.2 398.8 1163.3 396.7C1165.4 394.6 1168.5 387.8 1169.5 386.0" fill="none" stroke="#ee7070" stroke-width="1.0"  stroke-linejoin="round"/><path d="M59.2 394.2C60.2 394.1 63.2 393.1 65.0 393.5C66.8 393.9 68.0 395.1 70.0 396.7C72.0 398.3 74.6 400.9 76.7 403.3C78.8 405.7 80.3 408.4 82.5 410.8C84.7 413.2 87.6 416.9 90.0 417.5C92.4 418.1 94.2 416.6 96.7 414.2C99.2 411.8 102.5 405.5 105.0 403.3C107.5 401.1 108.9 400.1 111.7 400.8C114.5 401.5 118.7 405.7 121.7 407.5C124.8 409.3 127.2 411.1 130.0 411.7C132.8 412.2 135.5 410.5 138.3 410.8C141.1 411.1 143.9 413.9 146.7 413.3C149.5 412.8 152.2 409.2 155.0 407.5C157.8 405.8 160.5 404.1 163.3 403.3C166.1 402.5 168.9 402.1 171.7 402.5C174.5 402.9 177.2 405.8 180.0 405.8C182.8 405.8 185.5 403.3 188.3 402.5C191.1 401.7 193.4 400.4 196.7 400.8C200.0 401.2 205.2 405.1 208.3 405.0C211.4 404.9 212.8 401.0 215.0 400.0C217.2 399.0 219.2 399.9 221.7 399.2C224.2 398.5 227.2 396.8 230.0 395.8C232.8 394.8 235.5 394.0 238.3 393.3C241.1 392.6 243.9 392.0 246.7 391.7C249.5 391.4 252.8 392.4 255.0 391.7C257.2 391.0 257.2 389.0 260.0 387.5C262.8 386.0 268.1 384.9 271.7 382.5C275.3 380.1 278.4 376.5 281.7 373.3C285.0 370.1 287.8 366.9 291.7 363.3C295.6 359.7 300.8 354.9 305.0 351.7C309.2 348.5 313.4 346.3 316.7 344.2C320.0 342.1 322.2 341.3 325.0 339.2C327.8 337.1 330.2 334.1 333.3 331.7C336.4 329.3 340.0 328.1 343.3 325.0C346.6 321.9 350.0 315.8 353.3 313.3C356.6 310.8 360.0 311.1 363.3 310.0C366.6 308.9 370.2 309.2 373.3 306.7C376.4 304.2 378.6 298.6 381.7 295.0C384.8 291.4 388.6 287.5 391.7 285.0C394.8 282.5 396.4 282.8 400.0 280.0C403.6 277.2 409.4 271.6 413.3 268.3C417.2 265.0 419.4 262.8 423.3 260.0C427.2 257.2 432.2 255.4 436.7 251.7C441.1 248.0 446.1 241.9 450.0 238.0C453.9 234.1 456.7 231.0 460.0 228.3C463.3 225.6 466.7 224.3 470.0 221.7C473.3 219.1 476.4 215.4 480.0 212.5C483.6 209.6 488.1 206.7 491.7 204.2C495.3 201.7 498.1 199.9 501.7 197.5C505.3 195.1 509.1 192.4 513.3 190.0C517.5 187.6 522.2 186.4 526.7 183.3C531.2 180.2 535.0 176.1 540.0 171.7C545.0 167.3 551.7 160.7 556.7 156.7C561.7 152.7 565.6 149.7 570.0 147.5C574.4 145.3 579.4 145.0 583.3 143.3C587.2 141.6 590.0 139.7 593.3 137.5C596.6 135.3 600.2 131.8 603.3 130.0C606.4 128.2 608.4 127.8 612.0 126.7C615.6 125.6 620.0 124.3 625.0 123.3C630.0 122.3 636.2 120.9 641.7 120.8C647.2 120.7 652.8 122.8 658.3 122.5C663.8 122.2 670.0 119.6 675.0 119.2C680.0 118.8 684.1 119.2 688.3 120.0C692.5 120.8 695.8 124.2 700.0 124.2C704.2 124.2 709.4 119.6 713.3 120.0C717.2 120.4 719.4 125.0 723.3 126.7C727.2 128.4 732.2 128.2 736.7 130.0C741.2 131.8 745.6 134.7 750.0 137.5C754.4 140.3 759.1 144.4 763.3 146.7C767.5 149.0 771.1 149.3 775.0 151.2C778.9 153.1 782.5 155.6 786.7 158.0C790.9 160.4 795.6 163.4 800.0 165.5C804.4 167.6 809.1 168.8 813.3 170.8C817.5 172.8 821.1 175.1 825.0 177.5C828.9 179.9 834.2 182.8 836.7 185.0C839.2 187.2 837.5 189.3 840.0 191.0C842.5 192.7 847.5 193.6 851.7 195.0C855.9 196.4 860.8 197.0 865.0 199.2C869.2 201.4 873.1 204.8 876.7 208.3C880.3 211.8 883.1 216.7 886.7 220.0C890.3 223.3 894.4 225.8 898.3 228.3C902.2 230.8 906.4 232.5 910.0 235.0C913.6 237.5 916.7 240.5 920.0 243.3C923.3 246.1 926.7 249.0 930.0 251.7C933.3 254.4 936.7 257.6 940.0 259.5C943.3 261.4 946.4 261.7 950.0 263.3C953.6 264.9 958.1 266.5 961.7 269.0C965.3 271.5 968.7 274.4 971.7 278.3C974.8 282.2 977.0 288.2 980.0 292.5C983.0 296.8 986.7 300.4 990.0 304.2C993.3 307.9 996.7 310.7 1000.0 315.0C1003.3 319.3 1007.0 328.8 1010.0 330.0C1013.0 331.2 1015.2 321.5 1018.3 322.5C1021.3 323.5 1024.7 331.8 1028.3 335.8C1031.9 339.8 1036.9 342.9 1040.0 346.7C1043.1 350.4 1043.9 357.2 1046.7 358.3C1049.5 359.4 1053.1 354.1 1056.7 353.3C1060.3 352.5 1064.7 351.6 1068.3 353.3C1071.9 355.0 1075.0 360.8 1078.3 363.3C1081.6 365.8 1085.0 365.8 1088.3 368.3C1091.6 370.8 1094.7 376.1 1098.3 378.3C1101.9 380.5 1105.8 381.0 1110.0 381.7C1114.2 382.4 1120.0 381.2 1123.3 382.5C1126.6 383.8 1126.7 388.6 1130.0 389.2C1133.3 389.8 1139.4 386.1 1143.3 385.8C1147.2 385.5 1149.7 385.8 1153.3 387.5C1156.9 389.2 1162.3 395.1 1165.0 395.8C1167.7 396.6 1168.8 392.6 1169.5 392.0" fill="none" stroke="#ee5050" stroke-width="1.7" stroke-dasharray="6 4.5" stroke-linejoin="round"/><path d="M59.2 415.0C60.2 415.8 62.4 418.6 65.0 420.0C67.6 421.4 71.7 421.8 75.0 423.3C78.3 424.8 81.7 427.1 85.0 429.2C88.3 431.3 92.0 435.4 95.0 435.8C98.0 436.2 100.8 434.1 103.3 431.7C105.8 429.3 107.5 422.9 110.0 421.7C112.5 420.4 115.2 423.6 118.3 424.2C121.3 424.8 125.0 424.4 128.3 425.0C131.6 425.6 135.0 427.1 138.3 427.5C141.6 427.9 145.0 428.2 148.3 427.5C151.6 426.8 155.0 425.4 158.3 423.3C161.6 421.2 165.0 416.7 168.3 415.0C171.6 413.3 175.5 412.8 178.3 413.3C181.1 413.9 182.5 417.3 185.0 418.3C187.5 419.3 190.5 418.5 193.3 419.2C196.1 419.9 199.2 422.4 201.7 422.5C204.2 422.6 206.1 422.1 208.3 420.0C210.5 417.9 212.8 413.2 215.0 410.0C217.2 406.8 219.2 402.3 221.7 400.8C224.2 399.3 227.2 401.5 230.0 400.8C232.8 400.1 235.5 397.7 238.3 396.7C241.1 395.7 244.8 395.1 246.7 395.0C248.6 394.9 247.2 396.5 250.0 395.8C252.8 395.1 259.1 392.9 263.3 390.8C267.5 388.7 270.6 386.2 275.0 383.3C279.4 380.4 285.6 375.5 290.0 373.3C294.4 371.1 298.9 371.4 301.7 370.0C304.5 368.6 303.6 368.1 306.7 365.0C309.8 361.9 316.1 355.0 320.0 351.7C323.9 348.4 326.7 347.2 330.0 345.0C333.3 342.8 336.7 340.8 340.0 338.3C343.3 335.8 346.1 333.6 350.0 330.0C353.9 326.4 359.4 320.4 363.3 316.7C367.2 312.9 370.0 310.8 373.3 307.5C376.6 304.2 380.0 299.9 383.3 296.7C386.6 293.5 390.2 291.2 393.3 288.3C396.4 285.4 398.9 282.1 401.7 279.0C404.5 275.9 406.4 273.2 410.0 270.0C413.6 266.8 419.1 263.1 423.3 260.0C427.5 256.9 431.7 254.5 435.0 251.7C438.3 248.9 440.8 245.5 443.3 243.3C445.8 241.1 446.7 240.6 450.0 238.5C453.3 236.4 459.1 233.1 463.3 230.8C467.5 228.6 471.1 227.1 475.0 225.0C478.9 222.9 482.5 221.1 486.7 218.3C490.9 215.5 495.6 211.9 500.0 208.3C504.4 204.7 509.4 199.8 513.3 196.7C517.2 193.6 519.4 192.8 523.3 190.0C527.2 187.2 532.0 183.6 536.7 180.0C541.4 176.4 546.7 171.9 551.7 168.3C556.7 164.7 561.4 161.4 566.7 158.3C572.0 155.2 577.8 152.2 583.3 150.0C588.8 147.8 595.5 147.2 600.0 145.0C604.5 142.8 606.1 139.3 610.0 136.7C613.9 134.1 618.3 131.0 623.3 129.2C628.3 127.4 634.4 125.9 640.0 125.8C645.6 125.7 651.2 127.9 656.7 128.3C662.2 128.7 667.8 127.7 673.3 128.3C678.8 128.9 684.4 131.0 690.0 131.7C695.6 132.4 701.2 132.1 706.7 132.5C712.2 132.9 718.3 133.4 723.3 134.2C728.3 135.0 732.2 136.0 736.7 137.5C741.2 139.0 745.6 141.5 750.0 143.0C754.4 144.5 758.8 145.1 763.3 146.7C767.8 148.3 772.2 150.2 776.7 152.5C781.2 154.8 786.1 157.9 790.0 160.5C793.9 163.1 796.4 165.6 800.0 168.3C803.6 171.0 807.8 173.8 811.7 176.7C815.6 179.6 819.4 183.2 823.3 185.5C827.2 187.8 832.2 189.5 835.0 190.8C837.8 192.1 837.2 192.1 840.0 193.3C842.8 194.6 848.1 195.8 851.7 198.3C855.3 200.8 858.1 204.7 861.7 208.3C865.3 211.9 869.4 216.4 873.3 220.0C877.2 223.6 881.1 226.7 885.0 230.0C888.9 233.3 892.5 237.5 896.7 240.0C900.9 242.5 906.1 242.8 910.0 245.0C913.9 247.2 916.7 250.5 920.0 253.3C923.3 256.1 926.7 258.9 930.0 261.7C933.3 264.5 936.4 266.2 940.0 270.0C943.6 273.8 947.8 280.7 951.7 284.2C955.6 287.7 959.7 288.9 963.3 290.8C966.9 292.7 970.0 293.4 973.3 295.8C976.6 298.2 980.5 302.1 983.3 305.0C986.1 307.9 986.9 308.6 990.0 313.3C993.1 318.0 997.8 328.7 1001.7 333.3C1005.6 337.9 1009.7 339.1 1013.3 340.8C1016.9 342.5 1020.0 342.1 1023.3 343.3C1026.6 344.5 1030.0 345.2 1033.3 348.0C1036.6 350.8 1040.0 356.3 1043.3 360.0C1046.6 363.7 1050.0 366.9 1053.3 370.0C1056.6 373.1 1060.2 376.9 1063.3 378.3C1066.4 379.7 1068.9 376.9 1071.7 378.3C1074.5 379.7 1077.5 383.4 1080.0 386.7C1082.5 390.0 1084.8 395.9 1086.7 398.3C1088.7 400.7 1089.2 400.8 1091.7 400.8C1094.2 400.8 1098.4 397.9 1101.7 398.3C1105.0 398.7 1108.4 403.2 1111.7 403.3C1115.0 403.4 1118.7 398.9 1121.7 399.2C1124.8 399.5 1127.5 404.9 1130.0 405.0C1132.5 405.1 1133.9 399.9 1136.7 400.0C1139.5 400.1 1143.4 404.1 1146.7 405.8C1150.0 407.5 1153.4 410.1 1156.7 410.0C1160.0 409.9 1164.6 405.5 1166.7 405.0C1168.8 404.5 1169.0 406.7 1169.5 407.0" fill="none" stroke="#5050ee" stroke-width="1.7" stroke-dasharray="6 4.5" stroke-linejoin="round"/><path d="M59.2 387.5 L62.5 408.3 L65.0 427.5 L67.5 425.8 L70.8 415.8 L74.7 411.7 L77.5 390.0 L80.3 365.0 L83.3 374.2 L89.2 365.8 L92.5 357.5 L95.8 352.5 L98.7 333.3 L101.7 329.2 L107.5 395.0 L110.8 419.2 L114.2 416.7 L116.7 396.7 L126.3 322.5 L132.0 347.5 L135.3 333.7 L145.0 383.3 L148.3 393.3 L153.3 415.8 L156.7 414.2 L160.0 408.3 L165.8 349.7 L168.3 368.3 L172.5 385.0 L178.0 406.7 L184.2 395.0 L187.5 400.8 L193.0 400.8 L195.8 388.3 L199.2 385.0 L205.0 349.2 L208.3 343.7 L212.5 350.0 L217.5 372.5 L221.3 378.3 L224.2 391.7 L226.7 395.0 L229.7 392.5 L233.0 396.7 L241.7 345.3 L245.0 338.7 L248.3 341.3 L250.8 340.3 L256.7 350.0 L260.0 368.3 L263.3 375.0 L270.0 361.7 L275.8 355.0 L280.8 364.2 L285.0 379.2 L290.0 363.3 L294.2 361.7 L297.5 351.7 L300.8 353.3 L303.3 361.7 L306.7 350.8 L309.2 351.7 L312.5 344.2 L318.3 361.7 L325.0 356.7 L331.7 354.2 L335.0 343.3 L337.5 327.5 L342.5 310.0 L345.8 303.3 L349.7 305.8 L351.7 295.0 L354.2 280.0 L357.5 263.3 L361.3 246.7 L364.7 246.7 L367.5 270.0 L370.8 273.3 L373.3 280.0 L378.3 285.0 L381.7 280.0 L385.8 266.7 L388.7 258.3 L391.7 268.3 L395.0 267.5 L399.2 261.7 L401.7 262.5 L406.7 267.5 L410.8 273.3 L414.2 278.3 L418.3 266.7 L421.7 276.7 L425.8 263.3 L428.3 254.2 L433.3 253.3 L440.0 260.0 L445.0 241.7 L446.7 239.2 L450.0 243.5 L457.5 231.7 L467.5 244.2 L472.5 226.7 L476.7 210.0 L480.0 196.7 L484.2 190.0 L488.3 185.0 L492.5 181.7 L496.7 168.3 L500.8 154.2 L504.2 151.7 L507.5 154.2 L510.8 140.8 L514.2 140.0 L516.7 150.0 L519.7 151.7 L525.8 173.3 L531.7 156.7 L535.0 154.2 L538.3 160.8 L541.7 157.5 L547.5 162.5 L553.3 143.3 L558.3 142.5 L561.3 127.5 L564.7 128.3 L568.3 138.3 L571.7 136.7 L575.0 136.7 L578.3 141.7 L583.3 130.0 L588.3 115.0 L591.7 112.5 L595.0 113.3 L600.8 105.0 L606.7 108.3 L610.8 107.5 L615.0 111.7 L619.2 120.0 L623.3 122.5 L632.5 97.0 L636.7 110.0 L640.8 128.3 L644.2 127.5 L648.0 136.7 L654.2 111.7 L657.5 110.0 L662.5 109.2 L666.7 110.8 L670.0 117.5 L676.7 118.3 L683.3 120.8 L690.8 128.3 L702.5 87.5 L709.2 110.8 L715.0 104.2 L718.3 105.8 L722.5 125.0 L727.5 125.8 L730.0 133.3 L733.3 125.8 L736.7 126.7 L740.0 135.0 L746.7 119.2 L751.7 115.0 L755.8 120.0 L758.3 126.7 L765.8 123.3 L768.3 122.5 L775.8 109.2 L782.5 128.3 L788.3 111.7 L792.5 120.0 L795.0 121.7 L797.5 138.3 L800.8 163.0 L803.3 162.5 L806.7 150.0 L810.0 149.7 L813.3 145.0 L815.8 145.8 L820.0 155.8 L822.5 156.7 L826.7 150.8 L831.7 147.5 L836.7 145.8 L840.0 150.0 L846.7 166.7 L849.2 166.3 L852.5 158.3 L857.5 158.3 L861.7 155.5 L868.3 164.2 L873.3 173.3 L876.7 175.8 L884.2 190.0 L890.0 187.5 L893.3 190.8 L900.8 198.3 L906.7 215.8 L910.0 210.8 L913.3 212.5 L916.7 200.8 L920.0 204.2 L925.0 222.5 L931.7 209.2 L935.0 210.0 L939.2 220.0 L943.3 218.3 L950.0 221.7 L956.7 230.8 L959.2 230.8 L962.5 219.2 L967.5 220.8 L973.3 235.0 L980.0 252.5 L985.0 241.7 L989.2 238.3 L992.5 246.7 L998.3 303.3 L1005.0 286.7 L1007.5 285.8 L1010.8 289.7 L1016.7 271.7 L1023.3 288.3 L1030.8 302.5 L1033.3 302.5 L1035.0 291.7 L1038.7 285.0" fill="none" stroke="#000" stroke-width="2.6" stroke-linejoin="round" stroke-linecap="round"/><line x1="58.2" y1="59" x2="1169.7" y2="59" stroke="#7a7a7a" stroke-width="1.6"/><line x1="58.5" y1="526.5" x2="58.5" y2="59" stroke="#6a6a6a" stroke-width="1.6"/><line x1="1169.7" y1="59" x2="1169.7" y2="526.5" stroke="#6a6a6a" stroke-width="1"/><line x1="58" y1="526.5" x2="1170.2" y2="526.5" stroke="#111" stroke-width="1.1"/><path d="M58.94 526.5V534M61.99 526.5V534M65.04 526.5V534M68.10 526.5V534M71.15 526.5V534M74.20 526.5V534M77.25 526.5V534M80.31 526.5V534M83.36 526.5V534M86.41 526.5V534M89.46 526.5V534M92.51 526.5V534M95.57 526.5V534M98.62 526.5V534M101.67 526.5V534M104.72 526.5V534M107.78 526.5V534M110.83 526.5V534M113.88 526.5V534M116.93 526.5V534M119.98 526.5V534M123.04 526.5V534M126.09 526.5V534M129.14 526.5V534M132.19 526.5V534M135.25 526.5V534M138.30 526.5V534M141.35 526.5V534M144.40 526.5V534M147.45 526.5V534M150.51 526.5V534M153.56 526.5V534M156.61 526.5V534M159.66 526.5V534M162.71 526.5V534M165.77 526.5V534M168.82 526.5V534M171.87 526.5V534M174.92 526.5V534M177.98 526.5V534M181.03 526.5V534M184.08 526.5V534M187.13 526.5V534M190.18 526.5V534M193.24 526.5V534M196.29 526.5V534M199.34 526.5V534M202.39 526.5V534M205.45 526.5V534M208.50 526.5V534M211.55 526.5V534M214.60 526.5V534M217.65 526.5V534M220.71 526.5V534M223.76 526.5V534M226.81 526.5V534M229.86 526.5V534M232.92 526.5V534M235.97 526.5V534M239.02 526.5V534M242.07 526.5V534M245.12 526.5V534M248.18 526.5V534M251.23 526.5V534M254.28 526.5V534M257.33 526.5V534M260.39 526.5V534M263.44 526.5V534M266.49 526.5V534M269.54 526.5V534M272.59 526.5V534M275.65 526.5V534M278.70 526.5V534M281.75 526.5V534M284.80 526.5V534M287.86 526.5V534M290.91 526.5V534M293.96 526.5V534M297.01 526.5V534M300.06 526.5V534M303.12 526.5V534M306.17 526.5V534M309.22 526.5V534M312.27 526.5V534M315.32 526.5V534M318.38 526.5V534M321.43 526.5V534M324.48 526.5V534M327.53 526.5V534M330.59 526.5V534M333.64 526.5V534M336.69 526.5V534M339.74 526.5V534M342.79 526.5V534M345.85 526.5V534M348.90 526.5V534M351.95 526.5V534M355.00 526.5V534M358.06 526.5V534M361.11 526.5V534M364.16 526.5V534M367.21 526.5V534M370.26 526.5V534M373.32 526.5V534M376.37 526.5V534M379.42 526.5V534M382.47 526.5V534M385.53 526.5V534M388.58 526.5V534M391.63 526.5V534M394.68 526.5V534M397.73 526.5V534M400.79 526.5V534M403.84 526.5V534M406.89 526.5V534M409.94 526.5V534M413.00 526.5V534M416.05 526.5V534M419.10 526.5V534M422.15 526.5V534M425.20 526.5V534M428.26 526.5V534M431.31 526.5V534M434.36 526.5V534M437.41 526.5V534M440.46 526.5V534M443.52 526.5V534M446.57 526.5V534M449.62 526.5V534M452.67 526.5V534M455.73 526.5V534M458.78 526.5V534M461.83 526.5V534M464.88 526.5V534M467.93 526.5V534M470.99 526.5V534M474.04 526.5V534M477.09 526.5V534M480.14 526.5V534M483.20 526.5V534M486.25 526.5V534M489.30 526.5V534M492.35 526.5V534M495.40 526.5V534M498.46 526.5V534M501.51 526.5V534M504.56 526.5V534M507.61 526.5V534M510.67 526.5V534M513.72 526.5V534M516.77 526.5V534M519.82 526.5V534M522.87 526.5V534M525.93 526.5V534M528.98 526.5V534M532.03 526.5V534M535.08 526.5V534M538.14 526.5V534M541.19 526.5V534M544.24 526.5V534M547.29 526.5V534M550.34 526.5V534M553.40 526.5V534M556.45 526.5V534M559.50 526.5V534M562.55 526.5V534M565.61 526.5V534M568.66 526.5V534M571.71 526.5V534M574.76 526.5V534M577.81 526.5V534M580.87 526.5V534M583.92 526.5V534M586.97 526.5V534M590.02 526.5V534M593.08 526.5V534M596.13 526.5V534M599.18 526.5V534M602.23 526.5V534M605.28 526.5V534M608.34 526.5V534M611.39 526.5V534M614.44 526.5V534M617.49 526.5V534M620.54 526.5V534M623.60 526.5V534M626.65 526.5V534M629.70 526.5V534M632.75 526.5V534M635.81 526.5V534M638.86 526.5V534M641.91 526.5V534M644.96 526.5V534M648.01 526.5V534M651.07 526.5V534M654.12 526.5V534M657.17 526.5V534M660.22 526.5V534M663.28 526.5V534M666.33 526.5V534M669.38 526.5V534M672.43 526.5V534M675.48 526.5V534M678.54 526.5V534M681.59 526.5V534M684.64 526.5V534M687.69 526.5V534M690.75 526.5V534M693.80 526.5V534M696.85 526.5V534M699.90 526.5V534M702.95 526.5V534M706.01 526.5V534M709.06 526.5V534M712.11 526.5V534M715.16 526.5V534M718.22 526.5V534M721.27 526.5V534M724.32 526.5V534M727.37 526.5V534M730.42 526.5V534M733.48 526.5V534M736.53 526.5V534M739.58 526.5V534M742.63 526.5V534M745.68 526.5V534M748.74 526.5V534M751.79 526.5V534M754.84 526.5V534M757.89 526.5V534M760.95 526.5V534M764.00 526.5V534M767.05 526.5V534M770.10 526.5V534M773.15 526.5V534M776.21 526.5V534M779.26 526.5V534M782.31 526.5V534M785.36 526.5V534M788.42 526.5V534M791.47 526.5V534M794.52 526.5V534M797.57 526.5V534M800.62 526.5V534M803.68 526.5V534M806.73 526.5V534M809.78 526.5V534M812.83 526.5V534M815.89 526.5V534M818.94 526.5V534M821.99 526.5V534M825.04 526.5V534M828.09 526.5V534M831.15 526.5V534M834.20 526.5V534M837.25 526.5V534M840.30 526.5V534M843.36 526.5V534M846.41 526.5V534M849.46 526.5V534M852.51 526.5V534M855.56 526.5V534M858.62 526.5V534M861.67 526.5V534M864.72 526.5V534M867.77 526.5V534M870.83 526.5V534M873.88 526.5V534M876.93 526.5V534M879.98 526.5V534M883.03 526.5V534M886.09 526.5V534M889.14 526.5V534M892.19 526.5V534M895.24 526.5V534M898.30 526.5V534M901.35 526.5V534M904.40 526.5V534M907.45 526.5V534M910.50 526.5V534M913.56 526.5V534M916.61 526.5V534M919.66 526.5V534M922.71 526.5V534M925.76 526.5V534M928.82 526.5V534M931.87 526.5V534M934.92 526.5V534M937.97 526.5V534M941.03 526.5V534M944.08 526.5V534M947.13 526.5V534M950.18 526.5V534M953.23 526.5V534M956.29 526.5V534M959.34 526.5V534M962.39 526.5V534M965.44 526.5V534M968.50 526.5V534M971.55 526.5V534M974.60 526.5V534M977.65 526.5V534M980.70 526.5V534M983.76 526.5V534M986.81 526.5V534M989.86 526.5V534M992.91 526.5V534M995.97 526.5V534M999.02 526.5V534M1002.07 526.5V534M1005.12 526.5V534M1008.17 526.5V534M1011.23 526.5V534M1014.28 526.5V534M1017.33 526.5V534M1020.38 526.5V534M1023.44 526.5V534M1026.49 526.5V534M1029.54 526.5V534M1032.59 526.5V534M1035.64 526.5V534M1038.70 526.5V534M1041.75 526.5V534M1044.80 526.5V534M1047.85 526.5V534M1050.90 526.5V534M1053.96 526.5V534M1057.01 526.5V534M1060.06 526.5V534M1063.11 526.5V534M1066.17 526.5V534M1069.22 526.5V534M1072.27 526.5V534M1075.32 526.5V534M1078.37 526.5V534M1081.43 526.5V534M1084.48 526.5V534M1087.53 526.5V534M1090.58 526.5V534M1093.64 526.5V534M1096.69 526.5V534M1099.74 526.5V534M1102.79 526.5V534M1105.84 526.5V534M1108.90 526.5V534M1111.95 526.5V534M1115.00 526.5V534M1118.05 526.5V534M1121.11 526.5V534M1124.16 526.5V534M1127.21 526.5V534M1130.26 526.5V534M1133.31 526.5V534M1136.37 526.5V534M1139.42 526.5V534M1142.47 526.5V534M1145.52 526.5V534M1148.58 526.5V534M1151.63 526.5V534M1154.68 526.5V534M1157.73 526.5V534M1160.78 526.5V534M1163.84 526.5V534M1166.89 526.5V534M1169.70 526.5V534" stroke="#333" stroke-width="0.9"/><line x1="51.5" y1="91.25" x2="58.5" y2="91.25" stroke="#666" stroke-width="1.2"/><text class="s" font-size="9.4" fill="#333" text-anchor="middle" transform="translate(41.1 91.25) rotate(-90)">15</text><line x1="51.5" y1="127.90" x2="58.5" y2="127.90" stroke="#666" stroke-width="1.2"/><text class="s" font-size="9.4" fill="#333" text-anchor="middle" transform="translate(41.1 127.90) rotate(-90)">10</text><line x1="51.5" y1="164.55" x2="58.5" y2="164.55" stroke="#666" stroke-width="1.2"/><text class="s" font-size="9.4" fill="#333" text-anchor="middle" transform="translate(41.1 164.55) rotate(-90)">5</text><line x1="51.5" y1="201.20" x2="58.5" y2="201.20" stroke="#666" stroke-width="1.2"/><text class="s" font-size="9.4" fill="#333" text-anchor="middle" transform="translate(41.1 201.20) rotate(-90)">0</text><line x1="51.5" y1="237.85" x2="58.5" y2="237.85" stroke="#666" stroke-width="1.2"/><text class="s" font-size="9.4" fill="#333" text-anchor="middle" transform="translate(41.1 237.85) rotate(-90)">-5</text><line x1="51.5" y1="274.50" x2="58.5" y2="274.50" stroke="#666" stroke-width="1.2"/><text class="s" font-size="9.4" fill="#333" text-anchor="middle" transform="translate(41.1 274.50) rotate(-90)">-10</text><line x1="51.5" y1="311.15" x2="58.5" y2="311.15" stroke="#666" stroke-width="1.2"/><text class="s" font-size="9.4" fill="#333" text-anchor="middle" transform="translate(41.1 311.15) rotate(-90)">-15</text><line x1="51.5" y1="347.80" x2="58.5" y2="347.80" stroke="#666" stroke-width="1.2"/><text class="s" font-size="9.4" fill="#333" text-anchor="middle" transform="translate(41.1 347.80) rotate(-90)">-20</text><line x1="51.5" y1="384.45" x2="58.5" y2="384.45" stroke="#666" stroke-width="1.2"/><text class="s" font-size="9.4" fill="#333" text-anchor="middle" transform="translate(41.1 384.45) rotate(-90)">-25</text><line x1="51.5" y1="421.10" x2="58.5" y2="421.10" stroke="#666" stroke-width="1.2"/><text class="s" font-size="9.4" fill="#333" text-anchor="middle" transform="translate(41.1 421.10) rotate(-90)">-30</text><line x1="51.5" y1="457.75" x2="58.5" y2="457.75" stroke="#666" stroke-width="1.2"/><text class="s" font-size="9.4" fill="#333" text-anchor="middle" transform="translate(41.1 457.75) rotate(-90)">-35</text><line x1="51.5" y1="494.40" x2="58.5" y2="494.40" stroke="#666" stroke-width="1.2"/><text class="s" font-size="9.4" fill="#333" text-anchor="middle" transform="translate(41.1 494.40) rotate(-90)">-40</text><text class="s" font-size="10.8" fill="#111" text-anchor="middle" textLength="67.5" lengthAdjust="spacingAndGlyphs" transform="translate(13.2 293) rotate(-90)">Temperatura</text><text class="s" font-size="10.8" fill="#111" text-anchor="middle" textLength="24.7" lengthAdjust="spacingAndGlyphs" stroke="#111" stroke-width="0.3" x="614" y="580.7">Data</text><text class="s" font-size="10" fill="#111" stroke="#111" stroke-width="0.15" text-anchor="middle" transform="translate(58.44 553) scale(0.78 1)">sty 01</text><text class="s" font-size="10" fill="#111" stroke="#111" stroke-width="0.15" text-anchor="middle" transform="translate(88.96 553) scale(0.78 1)">sty 11</text><text class="s" font-size="10" fill="#111" stroke="#111" stroke-width="0.15" text-anchor="middle" transform="translate(119.48 553) scale(0.78 1)">sty 21</text><text class="s" font-size="10" fill="#111" stroke="#111" stroke-width="0.15" text-anchor="middle" transform="translate(150.01 553) scale(0.78 1)">sty 31</text><text class="s" font-size="10" fill="#111" stroke="#111" stroke-width="0.15" text-anchor="middle" transform="translate(180.53 553) scale(0.78 1)">lut 10</text><text class="s" font-size="10" fill="#111" stroke="#111" stroke-width="0.15" text-anchor="middle" transform="translate(211.05 553) scale(0.78 1)">lut 20</text><text class="s" font-size="10" fill="#111" stroke="#111" stroke-width="0.15" text-anchor="middle" transform="translate(244.62 553) scale(0.78 1)">mar 03</text><text class="s" font-size="10" fill="#111" stroke="#111" stroke-width="0.15" text-anchor="middle" transform="translate(281.25 553) scale(0.78 1)">mar 15</text><text class="s" font-size="10" fill="#111" stroke="#111" stroke-width="0.15" text-anchor="middle" transform="translate(317.88 553) scale(0.78 1)">mar 27</text><text class="s" font-size="10" fill="#111" stroke="#111" stroke-width="0.15" text-anchor="middle" transform="translate(351.45 553) scale(0.78 1)">kwi 07</text><text class="s" font-size="10" fill="#111" stroke="#111" stroke-width="0.15" text-anchor="middle" transform="translate(385.03 553) scale(0.78 1)">kwi 18</text><text class="s" font-size="10" fill="#111" stroke="#111" stroke-width="0.15" text-anchor="middle" transform="translate(418.60 553) scale(0.78 1)">kwi 29</text><text class="s" font-size="10" fill="#111" stroke="#111" stroke-width="0.15" text-anchor="middle" transform="translate(452.17 553) scale(0.78 1)">maj 10</text><text class="s" font-size="10" fill="#111" stroke="#111" stroke-width="0.15" text-anchor="middle" transform="translate(485.75 553) scale(0.78 1)">maj 21</text><text class="s" font-size="10" fill="#111" stroke="#111" stroke-width="0.15" text-anchor="middle" transform="translate(519.32 553) scale(0.78 1)">cze 01</text><text class="s" font-size="10" fill="#111" stroke="#111" stroke-width="0.15" text-anchor="middle" transform="translate(552.90 553) scale(0.78 1)">cze 12</text><text class="s" font-size="10" fill="#111" stroke="#111" stroke-width="0.15" text-anchor="middle" transform="translate(586.47 553) scale(0.78 1)">cze 23</text><text class="s" font-size="10" fill="#111" stroke="#111" stroke-width="0.15" text-anchor="middle" transform="translate(616.99 553) scale(0.78 1)">lip 03</text><text class="s" font-size="10" fill="#111" stroke="#111" stroke-width="0.15" text-anchor="middle" transform="translate(647.51 553) scale(0.78 1)">lip 13</text><text class="s" font-size="10" fill="#111" stroke="#111" stroke-width="0.15" text-anchor="middle" transform="translate(678.04 553) scale(0.78 1)">lip 23</text><text class="s" font-size="10" fill="#111" stroke="#111" stroke-width="0.15" text-anchor="middle" transform="translate(708.56 553) scale(0.78 1)">sie 02</text><text class="s" font-size="10" fill="#111" stroke="#111" stroke-width="0.15" text-anchor="middle" transform="translate(739.08 553) scale(0.78 1)">sie 12</text><text class="s" font-size="10" fill="#111" stroke="#111" stroke-width="0.15" text-anchor="middle" transform="translate(769.60 553) scale(0.78 1)">sie 22</text><text class="s" font-size="10" fill="#111" stroke="#111" stroke-width="0.15" text-anchor="middle" transform="translate(803.18 553) scale(0.78 1)">wrz 02</text><text class="s" font-size="10" fill="#111" stroke="#111" stroke-width="0.15" text-anchor="middle" transform="translate(836.75 553) scale(0.78 1)">wrz 13</text><text class="s" font-size="10" fill="#111" stroke="#111" stroke-width="0.15" text-anchor="middle" transform="translate(870.33 553) scale(0.78 1)">wrz 24</text><text class="s" font-size="10" fill="#111" stroke="#111" stroke-width="0.15" text-anchor="middle" transform="translate(903.90 553) scale(0.78 1)">paź 05</text><text class="s" font-size="10" fill="#111" stroke="#111" stroke-width="0.15" text-anchor="middle" transform="translate(937.47 553) scale(0.78 1)">paź 16</text><text class="s" font-size="10" fill="#111" stroke="#111" stroke-width="0.15" text-anchor="middle" transform="translate(971.05 553) scale(0.78 1)">paź 27</text><text class="s" font-size="10" fill="#111" stroke="#111" stroke-width="0.15" text-anchor="middle" transform="translate(1001.57 553) scale(0.78 1)">lis 06</text><text class="s" font-size="10" fill="#111" stroke="#111" stroke-width="0.15" text-anchor="middle" transform="translate(1029.04 553) scale(0.78 1)">lis 15</text><text class="s" font-size="10" fill="#111" stroke="#111" stroke-width="0.15" text-anchor="middle" transform="translate(1056.51 553) scale(0.78 1)">lis 24</text><text class="s" font-size="10" fill="#111" stroke="#111" stroke-width="0.15" text-anchor="middle" transform="translate(1087.03 553) scale(0.78 1)">gru 04</text><text class="s" font-size="10" fill="#111" stroke="#111" stroke-width="0.15" text-anchor="middle" transform="translate(1120.61 553) scale(0.78 1)">gru 15</text><text class="s" font-size="10" fill="#111" stroke="#111" stroke-width="0.15" text-anchor="middle" transform="translate(1154.18 553) scale(0.78 1)">gru 26</text><line x1="97.0" y1="83.5" x2="152.0" y2="83.5" stroke="#000" stroke-width="2.6" stroke-linecap="butt" /><text class="s" font-size="11.7" fill="#1a1a1a" x="162" y="87.7" textLength="27.4" lengthAdjust="spacingAndGlyphs">2022</text><line x1="97.0" y1="97.6" x2="152.0" y2="97.6" stroke="#6b6bff" stroke-width="1" stroke-linecap="butt" /><text class="s" font-size="11.7" fill="#1a1a1a" x="162" y="101.8" textLength="58.8" lengthAdjust="spacingAndGlyphs">1981-1990</text><line x1="97.0" y1="112.2" x2="152.0" y2="112.2" stroke="#3f8f3f" stroke-width="1" stroke-linecap="butt" /><text class="s" font-size="11.7" fill="#1a1a1a" x="162" y="116.4" textLength="58.8" lengthAdjust="spacingAndGlyphs">1991-2000</text><line x1="97.0" y1="126.3" x2="152.0" y2="126.3" stroke="#f8d040" stroke-width="1.5" stroke-linecap="butt" /><text class="s" font-size="11.7" fill="#1a1a1a" x="162" y="130.5" textLength="58.8" lengthAdjust="spacingAndGlyphs">2001-2010</text><line x1="97.0" y1="141.0" x2="152.0" y2="141.0" stroke="#ff8080" stroke-width="1.6" stroke-linecap="butt" /><text class="s" font-size="11.7" fill="#1a1a1a" x="162" y="145.2" textLength="57.9" lengthAdjust="spacingAndGlyphs">2011-2020</text><line x1="97.8" y1="155.4" x2="152.0" y2="155.4" stroke="#ff1a1a" stroke-width="2.1" stroke-linecap="round" stroke-dasharray="5 7"/><text class="s" font-size="11.7" fill="#1a1a1a" x="162" y="159.6" textLength="58.8" lengthAdjust="spacingAndGlyphs">1991-2020</text><line x1="97.8" y1="170.0" x2="152.0" y2="170.0" stroke="#1a1aff" stroke-width="2.1" stroke-linecap="round" stroke-dasharray="5 7"/><text class="s" font-size="11.7" fill="#1a1a1a" x="162" y="174.2" textLength="58.8" lengthAdjust="spacingAndGlyphs">1951-1980</text><line x1="98.5" y1="184.2" x2="150.5" y2="184.2" stroke="#e3e3e3" stroke-width="5" stroke-linecap="round" /><text class="s" font-size="11.7" fill="#1a1a1a" x="162" y="188.4" textLength="109.4" lengthAdjust="spacingAndGlyphs">max-min 1950-2021</text></svg></body></html>
